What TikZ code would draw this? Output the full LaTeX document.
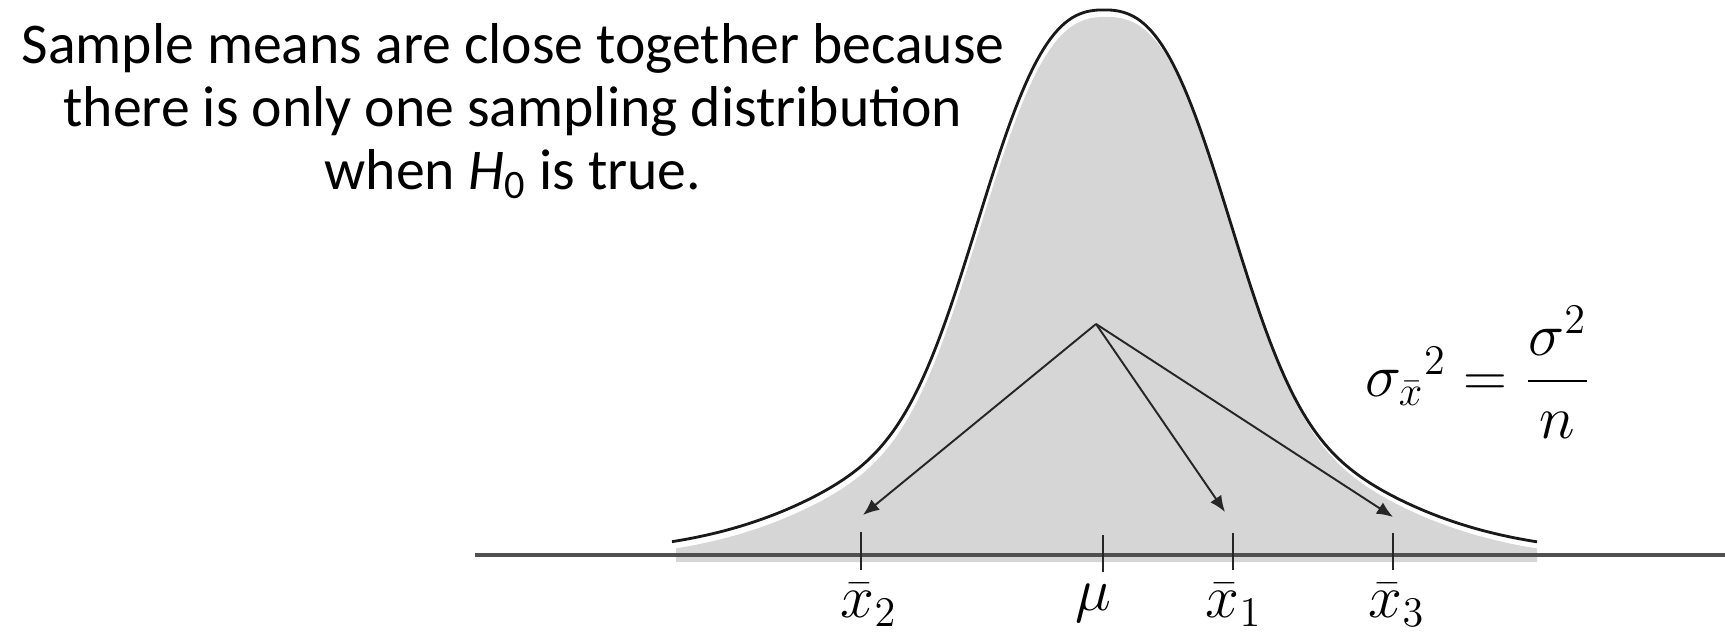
\documentclass[tikz,border=0pt]{standalone}
\usepackage{fontspec}
\setmainfont{Carlito}
\usetikzlibrary{arrows.meta}
\definecolor{fillgray}{HTML}{D6D6D6}
\definecolor{axisgray}{HTML}{505050}
\tikzset{
  curveline/.style={draw=black!90, line width=0.8pt},
  axisline/.style={draw=axisgray, line width=1.0pt},
  tickline/.style={draw=black!85, line width=0.55pt},
  meanarrow/.style={draw=black!85, line width=0.55pt, -{Latex[length=4.6pt,width=3.8pt]}},
  ticklabel/.style={font=\fontsize{18}{20}\selectfont, anchor=center},
  caption/.style={font=\fontsize{16.4}{17.9}\selectfont, align=center}
}
% height of the density curve above the axis, d = distance from the mean (px)
\def\bellh#1{(344*exp(-((abs(#1)+0.01)/145)^2.8) + 200*exp(-((#1)/183)^2/2))}
\begin{document}
\begin{tikzpicture}[x=0.01cm, y=-0.01cm]
\useasboundingbox (0,0) rectangle (1725,634);
% shaded area (slightly offset, as in the reference)
\fill[fillgray, shift={(2,7)}] (674,555) -- plot[domain=-430:431, samples=241] ({1104+\x}, {554 - \bellh{\x}}) -- (1535,555) -- cycle;
% axis
\draw[axisline] (475,555) -- (1725,555);
% curve outline
\draw[curveline] plot[domain=-432:433, samples=241] ({1104+\x}, {554 - \bellh{\x}});
% anchor points of the arrows
\coordinate (o) at (1096,324);
\coordinate (t2) at (863,515);
\coordinate (t1) at (1225,512);
\coordinate (t3) at (1393,517);
% ticks
\draw[tickline] (861,532) -- (861,570);
\draw[tickline] (1103,535) -- (1103,572);
\draw[tickline] (1233,533) -- (1233,570);
\draw[tickline] (1393,533) -- (1393,570);
% arrows
\draw[meanarrow] (o) -- (t2);
\draw[meanarrow] (o) -- (t1);
\draw[meanarrow] (o) -- (t3);
% labels
\node[ticklabel] (l2) at (869,605) {$\bar{x}_2$};
\node[ticklabel] (lm) at (1093,603) {$\mu$};
\node[ticklabel] (l1) at (1234,605) {$\bar{x}_1$};
\node[ticklabel] (l3) at (1397,605) {$\bar{x}_3$};
\node[font=\fontsize{17}{20}\selectfont] (f) at (1478,372) {${\sigma_{\bar{x}}}^{2}\;{=}\;\displaystyle\frac{\sigma^{2}}{n}$};
\node[caption] (cap) at (513,111) {Sample means are close together because\\there is only one sampling distribution\\when \textit{H}\textsubscript{0} is true.};
\end{tikzpicture}
\end{document}
